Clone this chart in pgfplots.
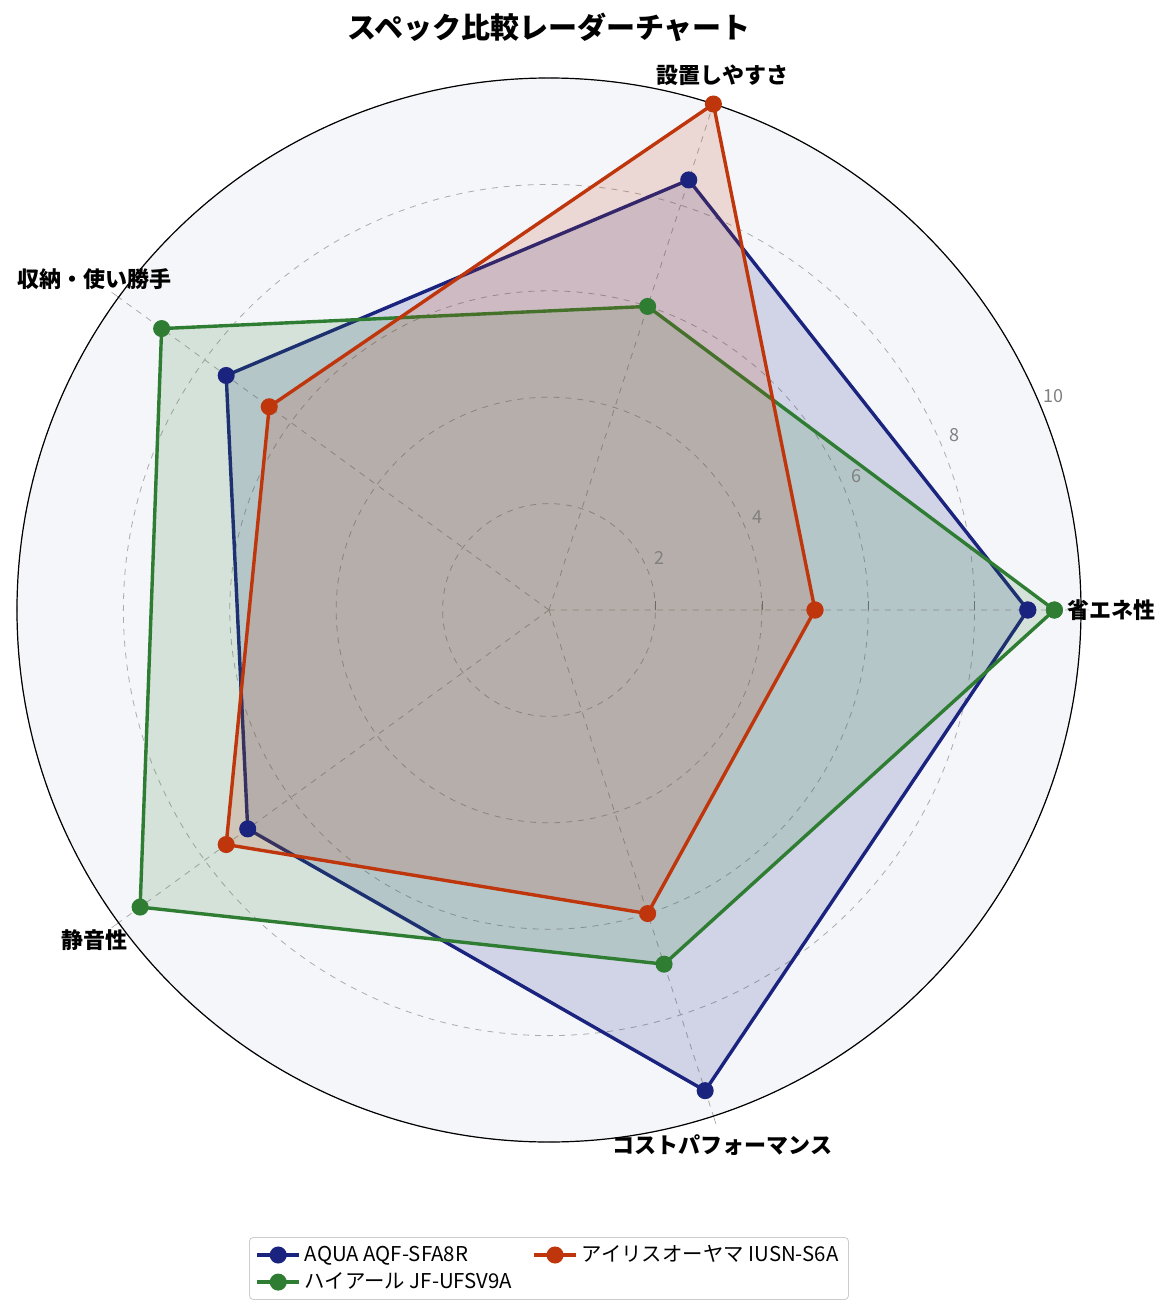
\documentclass[border=0pt]{standalone}
\usepackage{fontspec}
\setmainfont{Noto Sans CJK JP}
\usepackage{pgfplots}
\pgfplotsset{compat=1.18}
\usepgfplotslibrary{polar}

\definecolor{aqua}{RGB}{26,35,126}
\definecolor{haier}{RGB}{46,125,50}
\definecolor{iris}{RGB}{191,54,12}
\definecolor{bgpolar}{RGB}{244,246,250}

\begin{document}
\begin{tikzpicture}
\useasboundingbox (-274.5pt,-353pt) rectangle (311.5pt,305pt);
\begin{polaraxis}[
    at={(0,0)}, anchor=center,
    scale only axis,
    width=532pt, height=532pt,
    clip=false,
    title={\bfseries スペック比較レーダーチャート},
    title style={font=\fontsize{14.5}{16}\selectfont, at={(0.5,1)}, anchor=center, yshift=11pt},
    xmin=0, xmax=360,
    ymin=0, ymax=10,
    xtick={0,72,144,216,288},
    xticklabels={},
    ytick={2,4,6,8,10},
    yticklabels={},
    grid=major,
    major grid style={dashed, gray!65, line width=0.4pt},
    x axis line style={black, line width=0.6pt},
    y axis line style={draw=none},
    axis background/.style={fill=bgpolar},
    legend columns=2,
    legend style={at={(0.5,0)}, anchor=north, yshift=-47.5pt,
        font=\fontsize{10.2}{12}\selectfont, draw=gray!40, rounded corners=2pt,
        /tikz/every even column/.append style={column sep=8pt}},
    legend cell align=left,
    legend image code/.code={
        \draw[mark repeat=2, mark phase=2] plot coordinates {(0cm,0cm) (0.37cm,0cm) (0.74cm,0cm)};
    },
]
% AQUA
\addplot[forget plot, draw=none, fill=aqua, fill opacity=0.16]
    coordinates {(0,9.0)(72,8.5)(144,7.5)(216,7.0)(288,9.5)(360,9.0)} \closedcycle;
\addplot[forget plot, draw=aqua, line width=1.7pt, mark=*, mark size=3.4pt, mark options={fill=aqua}]
    coordinates {(0,9.0)(72,8.5)(144,7.5)(216,7.0)(288,9.5)(360,9.0)};
% ハイアール
\addplot[forget plot, draw=none, fill=haier, fill opacity=0.16]
    coordinates {(0,9.5)(72,6.0)(144,9.0)(216,9.5)(288,7.0)(360,9.5)} \closedcycle;
\addplot[forget plot, draw=haier, line width=1.7pt, mark=*, mark size=3.4pt, mark options={fill=haier}]
    coordinates {(0,9.5)(72,6.0)(144,9.0)(216,9.5)(288,7.0)(360,9.5)};
% アイリスオーヤマ
\addplot[forget plot, draw=none, fill=iris, fill opacity=0.16]
    coordinates {(0,5.0)(72,10.0)(144,6.5)(216,7.5)(288,6.0)(360,5.0)} \closedcycle;
\addplot[forget plot, draw=iris, line width=1.7pt, mark=*, mark size=3.4pt, mark options={fill=iris}]
    coordinates {(0,5.0)(72,10.0)(144,6.5)(216,7.5)(288,6.0)(360,5.0)};

\addlegendimage{draw=aqua, line width=1.7pt, mark=*, mark size=3.4pt, mark options={fill=aqua}}
\addlegendentry{AQUA AQF-SFA8R}
\addlegendimage{draw=iris, line width=1.7pt, mark=*, mark size=3.4pt, mark options={fill=iris}}
\addlegendentry{アイリスオーヤマ IUSN-S6A}
\addlegendimage{draw=haier, line width=1.7pt, mark=*, mark size=3.4pt, mark options={fill=haier}}
\addlegendentry{ハイアール JF-UFSV9A}

% category labels, centred just outside the circle
\node[font=\fontsize{11}{13}\selectfont\bfseries] at (axis cs:0,10.57) {省エネ性};
\node[font=\fontsize{11}{13}\selectfont\bfseries] at (axis cs:72,10.57) {設置しやすさ};
\node[font=\fontsize{11}{13}\selectfont\bfseries] at (axis cs:144,10.57) {収納・使い勝手};
\node[font=\fontsize{11}{13}\selectfont\bfseries] at (axis cs:216,10.57) {静音性};
\node[font=\fontsize{11}{13}\selectfont\bfseries] at (axis cs:288,10.57) {コストパフォーマンス};

% radial tick labels along about 23 degrees
\node[text=gray, font=\fontsize{9}{10}\selectfont] at (axis cs:25,2.3) {2};
\node[text=gray, font=\fontsize{9}{10}\selectfont] at (axis cs:24,4.3) {4};
\node[text=gray, font=\fontsize{9}{10}\selectfont] at (axis cs:23.5,6.3) {6};
\node[text=gray, font=\fontsize{9}{10}\selectfont] at (axis cs:23.3,8.3) {8};
\node[text=gray, font=\fontsize{9}{10}\selectfont] at (axis cs:23,10.3) {10};
\end{polaraxis}
\end{tikzpicture}
\end{document}
